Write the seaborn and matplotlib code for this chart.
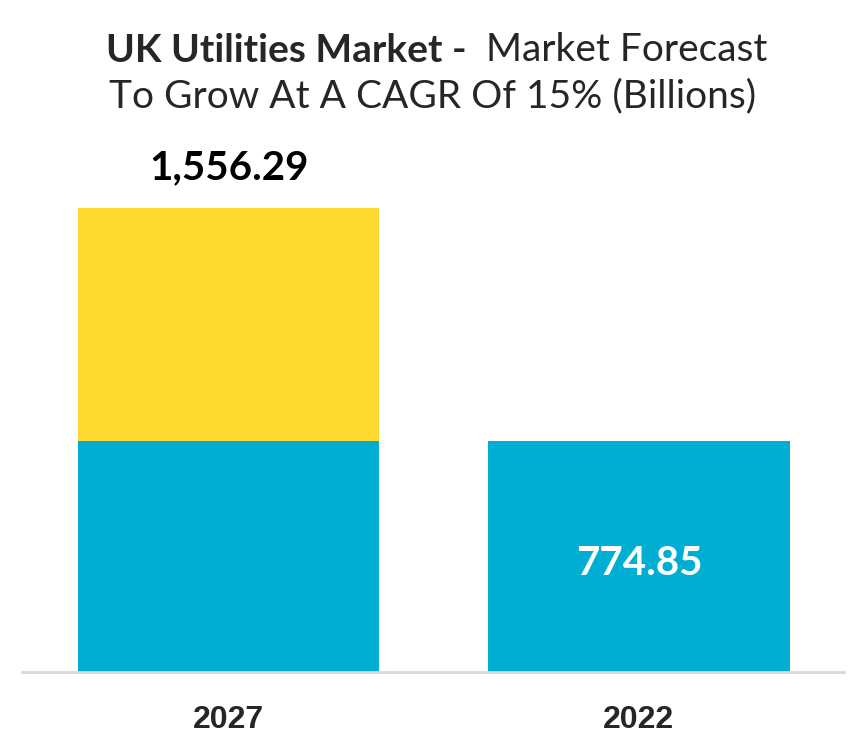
import matplotlib
matplotlib.use("Agg")
import matplotlib.pyplot as plt
import seaborn as sns
import pandas as pd

# Dados do gráfico
anos = ["2027", "2022"]
base = [774.85, 774.85]
total = [1556.29, 774.85]
rotulos = ["1,556.29", "774.85"]

azul = "#00AED3"
amarelo = "#FEDA31"

sns.set_theme(style="white")
plt.rcParams['font.family'] = ['Lato', 'DejaVu Sans']

df = pd.DataFrame({"ano": anos, "base": base, "total": total})

fig = plt.figure(figsize=(8.63, 7.5), dpi=100)
ax = fig.add_axes([0.026, 0.104, 0.952, 0.709])

# Barras empilhadas: total em amarelo, base em azul por cima
sns.barplot(data=df, x="ano", y="total", color=amarelo, width=0.735,
            saturation=1, linewidth=0, ax=ax)
sns.barplot(data=df, x="ano", y="base", color=azul, width=0.735,
            saturation=1, linewidth=0, ax=ax)

ax.set_xlim(-0.503, 1.5)
ax.set_ylim(0, 1785)
ax.set_xlabel("")
ax.set_ylabel("")
ax.set_yticks([])
for s in ["top", "right", "left"]:
    ax.spines[s].set_visible(False)
ax.spines["bottom"].set_color("#D9D9D9")
ax.spines["bottom"].set_linewidth(2)
ax.tick_params(axis="x", length=0, pad=24)
for t in ax.get_xticklabels():
    t.set_fontsize(23)
    t.set_fontweight("bold")
    t.set_family(["Liberation Sans Narrow", "Liberation Sans", "DejaVu Sans"])

# Rótulos dos valores
ax.text(0, total[0] + 138, rotulos[0], ha="center", va="center",
        fontsize=29, fontweight="bold", color="black")
ax.text(1, base[1] * 0.47, rotulos[1], ha="center", va="center",
        fontsize=29, fontweight="bold", color="white")

# Título com parte em negrito
fig.canvas.draw()
r = fig.canvas.get_renderer()
t1 = fig.text(0, 0.933, "UK Utilities Market -  ", fontsize=28,
              fontweight="bold", va="center", ha="left")
t2 = fig.text(0, 0.933, "Market Forecast", fontsize=28,
              va="center", ha="left")
w1 = t1.get_window_extent(r).width
w2 = t2.get_window_extent(r).width
x0 = (436.5 - (w1 + w2) / 2) / 863
t1.set_x(x0)
t2.set_x(x0 + w1 / 863)
fig.text(0.501, 0.871, "To Grow At A CAGR Of 15% (Billions)", fontsize=28,
         va="center", ha="center")

fig.savefig("out.png", dpi=100)
